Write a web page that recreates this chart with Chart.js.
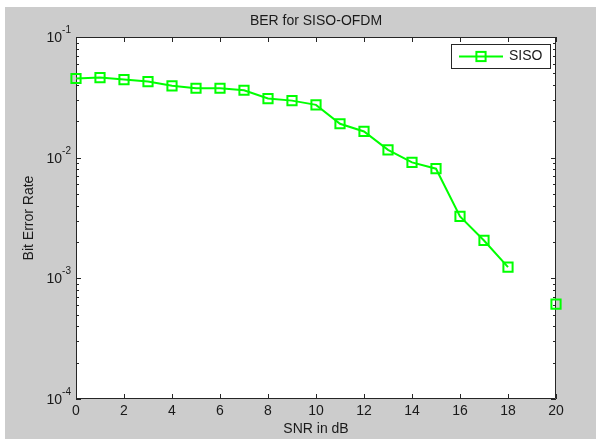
<!DOCTYPE html>
<html>
<head>
<meta charset="utf-8">
<script src="https://cdn.jsdelivr.net/npm/chart.js@4.4.1/dist/chart.umd.min.js"></script>
<style>
  html, body { margin: 0; padding: 0; background: #fff; }
  #wrap { width: 596px; height: 439px; position: relative; }
</style>
</head>
<body>
<div id="wrap"><canvas id="myChart" width="596" height="439"></canvas></div>
<script>
// data
const snrValues = [0, 1, 2, 3, 4, 5, 6, 7, 8, 9, 10, 11, 12, 13, 14, 15, 16, 17, 18, 19, 20];
const berSiso = [0.0453, 0.0461, 0.0444, 0.0427, 0.0394, 0.0376, 0.0376, 0.0362, 0.0309, 0.0297,
  0.0274, 0.0191, 0.0165, 0.0116, 0.00914, 0.0081, 0.00326, 0.00206, 0.00124, null, 0.000611];
const xTicks = [0, 2, 4, 6, 8, 10, 12, 14, 16, 18, 20];
const yExponents = [-4, -3, -2, -1];

const titleText = "BER for SISO-OFDM";
const xTitle = "SNR in dB";
const yTitle = "Bit Error Rate";
const seriesName = "SISO";

const green = "#00ff00";
const axisColor = "#262626";
const font = "Liberation Sans, Arial, sans-serif";

// matlab style figure: gray frame, inward ticks on all four sides
const matlabAxes = {
  id: "matlabAxes",
  beforeDraw(chart) {
    const c = chart.ctx;
    const a = chart.chartArea;
    c.save();
    c.fillStyle = "#ffffff";
    c.fillRect(0, 0, chart.width, chart.height);
    c.fillStyle = "#cccccc";
    c.fillRect(5, 7, chart.width - 5, chart.height - 7);
    c.fillStyle = "#ffffff";
    c.fillRect(a.left, a.top, a.right - a.left, a.bottom - a.top);
    c.restore();
  },
  beforeDatasetsDraw(chart) {
    const c = chart.ctx;
    const a = chart.chartArea;
    const xs = chart.scales.x;
    const ys = chart.scales.y;
    c.save();
    c.strokeStyle = axisColor;
    c.lineWidth = 1;
    c.beginPath();
    c.rect(a.left + 0.5, a.top + 0.5, a.right - a.left - 1, a.bottom - a.top - 1);
    c.stroke();

    c.beginPath();
    for (const t of xTicks) {
      const px = Math.round(xs.getPixelForValue(t)) + 0.5;
      c.moveTo(px, a.bottom);
      c.lineTo(px, a.bottom - 5);
      c.moveTo(px, a.top);
      c.lineTo(px, a.top + 5);
    }
    for (const e of yExponents) {
      const py = Math.round(ys.getPixelForValue(Math.pow(10, e))) + 0.5;
      c.moveTo(a.left, py);
      c.lineTo(a.left + 5, py);
      c.moveTo(a.right, py);
      c.lineTo(a.right - 5, py);
      if (e < -1) {
        for (let m = 2; m <= 9; m++) {
          const pm = Math.round(ys.getPixelForValue(m * Math.pow(10, e))) + 0.5;
          c.moveTo(a.left, pm);
          c.lineTo(a.left + 3, pm);
          c.moveTo(a.right, pm);
          c.lineTo(a.right - 3, pm);
        }
      }
    }
    c.stroke();

    // tick labels
    c.fillStyle = "#1a1a1a";
    c.font = "14px " + font;
    c.textAlign = "center";
    c.textBaseline = "top";
    for (const t of xTicks) {
      c.fillText(String(t), xs.getPixelForValue(t), a.bottom + 5);
    }
    for (const e of yExponents) {
      const py = ys.getPixelForValue(Math.pow(10, e));
      c.font = "10px " + font;
      c.textAlign = "left";
      c.textBaseline = "alphabetic";
      const ew = c.measureText(String(e)).width;
      const ex = a.left - 5 - ew;
      c.fillText(String(e), ex, py - 4);
      c.font = "14px " + font;
      c.textAlign = "right";
      c.fillText("10", ex, py + 5);
    }

    // titles
    c.textAlign = "center";
    c.textBaseline = "middle";
    c.font = "14px " + font;
    c.fillText(titleText, (a.left + a.right) / 2, 21);
    c.fillText(xTitle, (a.left + a.right) / 2, 429);
    c.translate(29, (a.top + a.bottom) / 2);
    c.rotate(-Math.PI / 2);
    c.fillText(yTitle, 0, 0);
    c.restore();
  },
  afterDatasetsDraw(chart) {
    const c = chart.ctx;
    const ds = chart.data.datasets[0];
    const box = { x: 451, y: 44, w: 99, h: 24 };
    c.save();
    c.fillStyle = "#ffffff";
    c.fillRect(box.x, box.y, box.w, box.h);
    c.strokeStyle = axisColor;
    c.lineWidth = 1;
    c.strokeRect(box.x + 0.5, box.y + 0.5, box.w, box.h);
    const cy = box.y + 12.5;
    c.strokeStyle = ds.borderColor;
    c.lineWidth = ds.borderWidth;
    c.beginPath();
    c.moveTo(459, cy);
    c.lineTo(503, cy);
    c.stroke();
    const s = Math.SQRT1_2 * ds.pointRadius;
    c.lineWidth = ds.pointBorderWidth;
    c.strokeRect(481 - s, cy - s, 2 * s, 2 * s);
    c.fillStyle = "#1a1a1a";
    c.font = "14px " + font;
    c.textAlign = "left";
    c.textBaseline = "middle";
    c.fillText(ds.label, 509, cy);
    c.restore();
  }
};

const points = snrValues.map((x, i) => ({ x: x, y: berSiso[i] }));

const ctx = document.querySelector("#myChart").getContext("2d");
new Chart(ctx, {
  type: "line",
  data: {
    datasets: [
      {
        label: seriesName,
        data: points,
        borderColor: green,
        borderWidth: 2,
        pointStyle: "rect",
        pointRadius: 6.5,
        pointBorderWidth: 2,
        pointBorderColor: green,
        pointBackgroundColor: "rgba(0,0,0,0)",
        spanGaps: false,
        clip: false,
        tension: 0,
      },
    ],
  },
  options: {
    responsive: false,
    animation: false,
    layout: { padding: { left: 76, top: 37, right: 40, bottom: 40 } },
    scales: {
      x: { type: "linear", min: 0, max: 20, display: false },
      y: { type: "logarithmic", min: 1e-4, max: 1e-1, display: false },
    },
    plugins: {
      legend: { display: false },
      tooltip: { enabled: false },
    },
  },
  plugins: [matlabAxes],
});
</script>
</body>
</html>
